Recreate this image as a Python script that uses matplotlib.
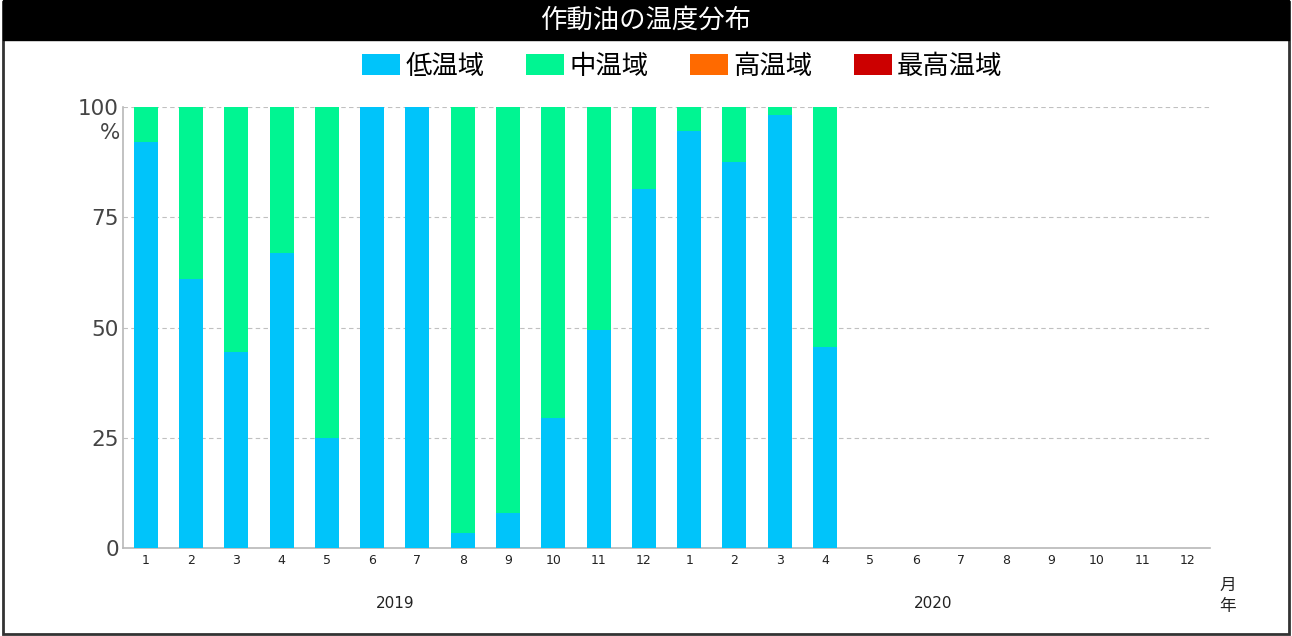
import numpy as np
import matplotlib.pyplot as plt
from matplotlib.patches import Patch, Rectangle

plt.rcParams['font.family'] = ['Noto Sans CJK JP', 'DejaVu Sans']

title = "作動油の温度分布"
months = [str(m) for m in range(1, 13)] * 2
years = ["2019", "2020"]
series_names = ["低温域", "中温域", "高温域", "最高温域"]
colors = ["#00c4fa", "#00f592", "#ff6a00", "#cc0000"]

low = [92, 61, 44.5, 67, 25, 100, 100, 3.5, 8, 29.5, 49.5, 81.5,
       94.5, 87.5, 98.2, 45.5, 0, 0, 0, 0, 0, 0, 0, 0]
mid = [8, 39, 55.5, 33, 75, 0, 0, 96.5, 92, 70.5, 50.5, 18.5,
       5.5, 12.5, 1.8, 54.5, 0, 0, 0, 0, 0, 0, 0, 0]
high = [0] * 24
highest = [0] * 24

fig = plt.figure(figsize=(12.92, 6.36), dpi=100)
W, H = 1292, 636

# outer frame and title band
fig.patches.append(Rectangle((3 / W, 2 / H), 1286 / W, 632 / H, transform=fig.transFigure,
                             fill=False, edgecolor="#333333", linewidth=2.0))
fig.patches.append(Rectangle((3 / W, 1 - 40 / H), 1286 / W, 40 / H, transform=fig.transFigure,
                             facecolor="black", edgecolor="black"))
fig.text(0.5, 1 - 20 / H, title, color="white", fontsize=19,
         ha="center", va="center")

ax = fig.add_axes([123 / W, 1 - 548 / H, (1210 - 123) / W, (548 - 107) / H])
x = np.arange(len(months))
bottom = np.zeros(len(months))
for name, vals, c in zip(series_names, [low, mid, high, highest], colors):
    ax.bar(x, vals, width=0.53, bottom=bottom, color=c, label=name, zorder=3)
    bottom += np.array(vals)

ax.set_xlim(-0.5, 23.5)
ax.set_ylim(0, 100)
ax.set_yticks([0, 25, 50, 75, 100])
ax.set_yticklabels(["0", "25", "50", "75", "100"], fontsize=15.5, color="#444444",
                   family="DejaVu Sans")
ax.set_xticks(x)
ax.set_xticklabels(months, fontsize=9, color="#222222", family="DejaVu Sans")
ax.tick_params(length=0, pad=4)
ax.tick_params(axis="y", pad=3)
ax.yaxis.grid(True, linestyle=(0, (4, 3)), color="#c0c0c0", linewidth=0.8, zorder=0)
for s in ["top", "right"]:
    ax.spines[s].set_visible(False)
for s in ["left", "bottom"]:
    ax.spines[s].set_color("#b8b8b8")
    ax.spines[s].set_linewidth(1.2)

fig.text(120 / W, 1 - 133 / H, "%", fontsize=15.5, color="#444444", ha="right", va="center",
         family="DejaVu Sans")
for i, yr in enumerate(years):
    fig.text((395 + i * 538) / W, 1 - 603 / H, yr, fontsize=11, color="#222222",
             ha="center", va="center", family="DejaVu Sans")
fig.text(1228 / W, 1 - 585 / H, "月", fontsize=12, color="#222222", ha="center", va="center")
fig.text(1228 / W, 1 - 606 / H, "年", fontsize=12, color="#222222", ha="center", va="center")

handles = [Patch(facecolor=c, edgecolor="none") for c in colors]
fig.legend(handles, series_names, loc="center left", bbox_to_anchor=(362 / W, 1 - 66 / H),
           ncol=4, frameon=False, fontsize=19, borderpad=0, borderaxespad=0,
           handlelength=1.45, handleheight=0.85,
           handletextpad=0.2, columnspacing=1.56)

fig.savefig("out.png", dpi=100)
